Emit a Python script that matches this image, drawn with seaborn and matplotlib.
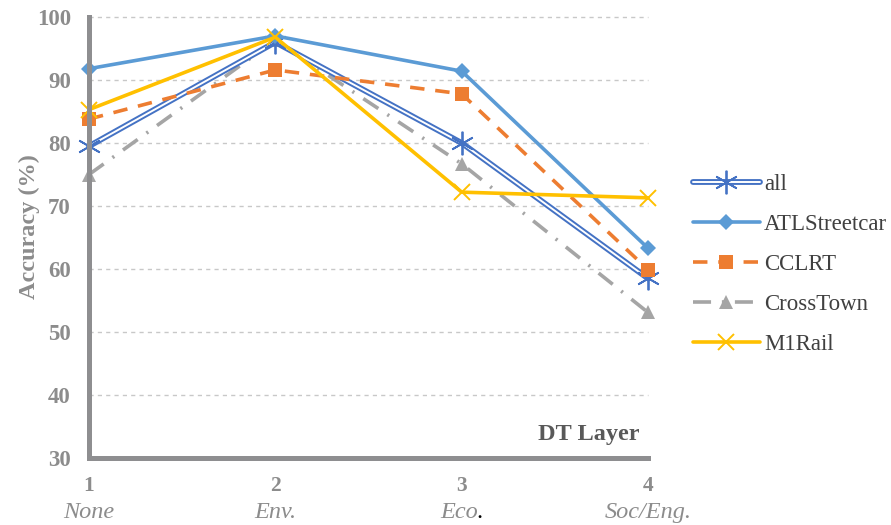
import matplotlib
matplotlib.use("Agg")
import matplotlib.pyplot as plt
import seaborn as sns
import pandas as pd
from matplotlib.lines import Line2D
from matplotlib.legend_handler import HandlerTuple

layers = [1, 2, 3, 4]
layer_names = ["None", "Env.", "Eco.", "Soc/Eng."]
acc_all = [79.5, 96.0, 80.0, 58.5]
acc_atl = [91.8, 97.0, 91.4, 63.3]
acc_cclrt = [83.8, 91.6, 87.8, 59.9]
acc_crosstown = [75.0, 96.3, 76.7, 53.1]
acc_m1rail = [85.3, 96.8, 72.2, 71.3]

sns.set_theme(style="white")
plt.rcParams['font.family'] = ['Liberation Serif', 'DejaVu Serif']

fig = plt.figure(figsize=(8.91, 5.25), dpi=100)
ax = fig.add_axes([0.0999, 0.1276, 0.6274, 0.8400])

gray_txt = "#8c8c8c"
spine_c = "#8e8e90"

c_all = "#4472C4"
c_atl = "#5B9BD5"
c_cc = "#ED7D31"
c_ct = "#A5A5A5"
c_m1 = "#FFC000"

# all: double line
sns.lineplot(x=layers, y=acc_all, ax=ax, color=c_all, lw=4.2, zorder=3, clip_on=False)
sns.lineplot(x=layers, y=acc_all, ax=ax, color="white", lw=1.4, zorder=3.1, clip_on=False,
             marker=(6, 2, 0), markersize=17, markeredgecolor=c_all,
             markeredgewidth=1.3, markerfacecolor=c_all)
# ATL
sns.lineplot(x=layers, y=acc_atl, ax=ax, color=c_atl, lw=2.6, zorder=4, clip_on=False,
             marker="D", markersize=8, markeredgewidth=0, markerfacecolor=c_atl)
# CCLRT
sns.lineplot(x=layers, y=acc_cclrt, ax=ax, color=c_cc, lw=2.6, zorder=4, clip_on=False,
             dashes=(4, 3), marker="s", markersize=10, markeredgewidth=0,
             markerfacecolor=c_cc)
# CrossTown
sns.lineplot(x=layers, y=acc_crosstown, ax=ax, color=c_ct, lw=2.6, zorder=2, clip_on=False,
             dashes=(5, 3, 0.6, 3), marker="^", markersize=10, markeredgewidth=0,
             markerfacecolor=c_ct)
# M1Rail
sns.lineplot(x=layers, y=acc_m1rail, ax=ax, color=c_m1, lw=2.6, zorder=5, clip_on=False,
             marker="x", markersize=11, markeredgewidth=1.4, markeredgecolor=c_m1)

ax.set_xlim(1, 4)
ax.set_ylim(30, 100)
ax.set_yticks(range(30, 101, 10))
ax.set_xticks(layers)
ax.set_xticklabels([str(v) for v in layers])

for yv in range(40, 101, 10):
    ax.axhline(yv, color="#c8c8c8", lw=1.0, ls=(0, (3, 3)), zorder=0, clip_on=False)

for s in ["top", "right"]:
    ax.spines[s].set_visible(False)
for s in ["left", "bottom"]:
    ax.spines[s].set_color(spine_c)
    ax.spines[s].set_linewidth(3.6)
    ax.spines[s].set_zorder(6)

ax.tick_params(axis="both", which="both", direction="out", width=2.5,
               color=spine_c, labelcolor=gray_txt)
ax.tick_params(axis="y", length=3, pad=10, labelsize=16.5)
ax.tick_params(axis="x", length=5, pad=8, labelsize=15.5)
for lbl in ax.get_xticklabels() + ax.get_yticklabels():
    lbl.set_fontweight("bold")

ax.set_ylabel("Accuracy (%)", fontsize=17.5, fontweight="bold", color=gray_txt)
ax.yaxis.set_label_coords(-0.087, 0.524)
ax.set_xlabel("")

ax.text(0.985, 0.03, "DT Layer", transform=ax.transAxes, ha="right", va="bottom",
        fontsize=17.5, fontweight="bold", color="#595959")

# italic category names below tick numbers
for xv, name in zip(layers, layer_names):
    if name == "Eco.":
        ax.annotate("Eco", xy=(xv, 0), xycoords=("data", "axes fraction"),
                    xytext=(-2, -32), textcoords="offset points", ha="center", va="top",
                    fontsize=17.5, fontstyle="italic", color=gray_txt, annotation_clip=False)
        ax.annotate(".", xy=(xv, 0), xycoords=("data", "axes fraction"),
                    xytext=(13, -32), textcoords="offset points", ha="center", va="top",
                    fontsize=17.5, color="black", annotation_clip=False)
    else:
        ax.annotate(name, xy=(xv, 0), xycoords=("data", "axes fraction"),
                    xytext=(0, -32), textcoords="offset points", ha="center", va="top",
                    fontsize=17.5, fontstyle="italic", color=gray_txt, annotation_clip=False)

# legend
h_all = (Line2D([], [], color=c_all, lw=4.2),
         Line2D([], [], color="white", lw=1.4, marker=(6, 2, 0), markersize=17,
                markeredgecolor=c_all, markeredgewidth=1.3))
h_atl = Line2D([], [], color=c_atl, lw=2.6, marker="D", markersize=8, markeredgewidth=0)
h_cc = Line2D([], [], color=c_cc, lw=2.6, dashes=(4, 3), marker="s", markersize=10,
              markeredgewidth=0)
h_ct = Line2D([], [], color=c_ct, lw=2.6, dashes=(5, 3, 0.6, 3), marker="^", markersize=10,
              markeredgewidth=0)
h_m1 = Line2D([], [], color=c_m1, lw=2.6, marker="x", markersize=11, markeredgewidth=1.4)
leg = fig.legend([h_all, h_atl, h_cc, h_ct, h_m1],
                 ["all", "ATLStreetcar", "CCLRT", "CrossTown", "M1Rail"],
                 handler_map={tuple: HandlerTuple(ndivide=1, pad=0)},
                 loc="upper left", bbox_to_anchor=(0.778, 0.668), frameon=False,
                 fontsize=16.5, handlelength=2.9, handletextpad=0.2, labelspacing=0.82,
                 borderaxespad=0, borderpad=0)
for t in leg.get_texts():
    t.set_color("#404040")

fig.savefig("out.png", dpi=100)
